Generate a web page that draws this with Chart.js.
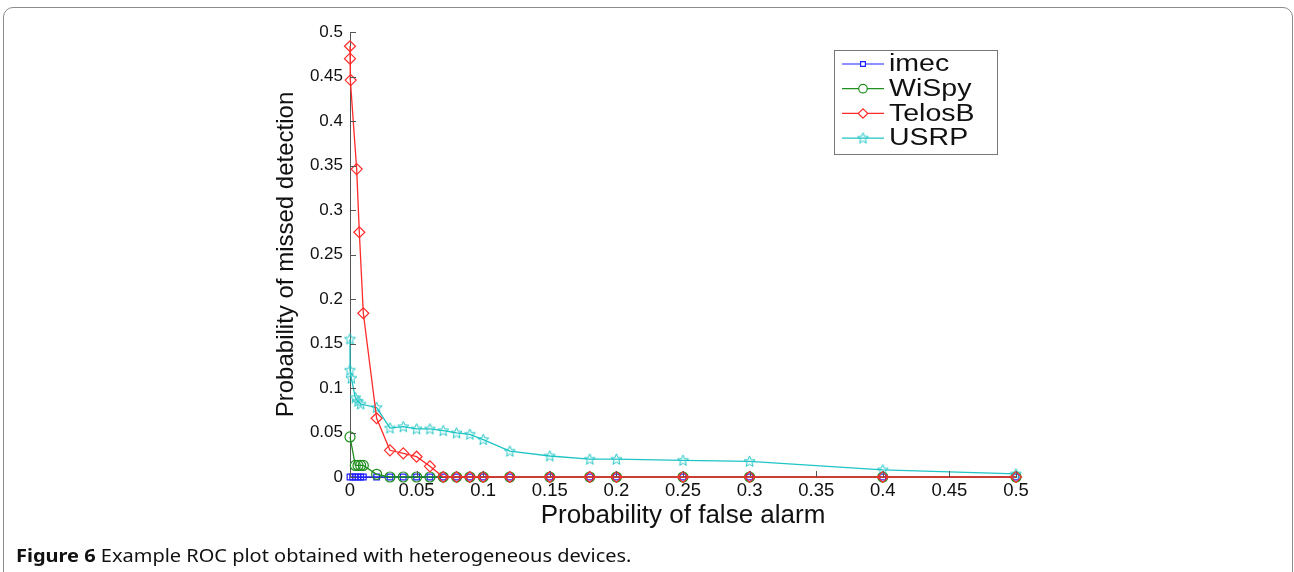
<!DOCTYPE html>
<html>
<head>
<meta charset="utf-8">
<script src="https://cdn.jsdelivr.net/npm/chart.js@4/dist/chart.umd.min.js"></script>
<style>
  body { margin: 0; background: #fff; }
  #wrap { position: relative; width: 1294px; height: 572px; overflow: hidden; }
  #frame { position: absolute; left: 3px; top: 7px; width: 1288px; height: 640px;
           border: 1px solid #8c8c8c; border-radius: 10px; }
  #roc { position: absolute; left: 0; top: 0; }
  #cap { position: absolute; left: 16px; top: 543px; font-family: "Noto Sans", sans-serif;
         font-size: 18px; color: #111; white-space: nowrap;
         transform: scaleX(1.11); transform-origin: 0 0; }
  #cap b { font-weight: 700; }
</style>
</head>
<body>
<div id="wrap">
  <div id="frame"></div>
  <canvas id="roc" width="1294" height="572"></canvas>
  <div id="cap"><b>Figure 6</b> Example ROC plot obtained with heterogeneous devices.</div>
</div>
<script>
// ROC data
const seriesNames = ['imec', 'WiSpy', 'TelosB', 'USRP'];

const imecX = [0, 0.002, 0.004, 0.006, 0.008, 0.01, 0.02, 0.03, 0.04, 0.05, 0.06, 0.07, 0.08, 0.09, 0.1, 0.12, 0.15, 0.18, 0.2, 0.25, 0.3, 0.4, 0.5];
const imecY = [0, 0, 0, 0, 0, 0, 0, 0, 0, 0, 0, 0, 0, 0, 0, 0, 0, 0, 0, 0, 0, 0, 0];

const wispyX = [0, 0.004, 0.006, 0.008, 0.01, 0.02, 0.03, 0.04, 0.05, 0.06, 0.07, 0.08, 0.09, 0.1, 0.12, 0.15, 0.18, 0.2, 0.25, 0.3, 0.4, 0.5];
const wispyY = [0.045, 0.013, 0.013, 0.013, 0.013, 0.003, 0, 0, 0, 0, 0, 0, 0, 0, 0, 0, 0, 0, 0, 0, 0, 0];

const telosX = [0, 0, 0.0005, 0.005, 0.007, 0.01, 0.02, 0.03, 0.04, 0.05, 0.06, 0.07, 0.08, 0.09, 0.1, 0.12, 0.15, 0.18, 0.2, 0.25, 0.3, 0.4, 0.5];
const telosY = [0.484, 0.47, 0.446, 0.346, 0.275, 0.184, 0.066, 0.030, 0.0265, 0.0228, 0.012, 0, 0, 0, 0, 0, 0, 0, 0, 0, 0, 0, 0];

const usrpX = [0, 0, 0.001, 0.004, 0.006, 0.008, 0.02, 0.03, 0.04, 0.05, 0.06, 0.07, 0.08, 0.09, 0.1, 0.12, 0.15, 0.18, 0.2, 0.25, 0.3, 0.4, 0.5];
const usrpY = [0.155, 0.12, 0.111, 0.089, 0.085, 0.082, 0.078, 0.055, 0.0565, 0.054, 0.054, 0.052, 0.0495, 0.048, 0.042, 0.029, 0.0236, 0.020, 0.020, 0.0187, 0.0176, 0.008, 0.0034];

const xTicks = [0, 0.05, 0.1, 0.15, 0.2, 0.25, 0.3, 0.35, 0.4, 0.45, 0.5];
const yTicks = [0, 0.05, 0.1, 0.15, 0.2, 0.25, 0.3, 0.35, 0.4, 0.45, 0.5];

const colors = ['#2020ff', '#1f8f1f', '#ff2a2a', '#1fc4c4'];

function toPoints(xs, ys) {
  return xs.map((x, i) => ({ x: x, y: ys[i] }));
}

// hollow five-pointed star marker (matlab 'p')
function starMarker(color) {
  const c = document.createElement('canvas');
  c.width = 13; c.height = 13;
  const g = c.getContext('2d');
  g.strokeStyle = color;
  g.lineWidth = 1;
  g.beginPath();
  for (let i = 0; i < 10; i++) {
    const r = i % 2 === 0 ? 5.8 : 2.5;
    const a = -Math.PI / 2 + i * Math.PI / 5;
    const px = 6.5 + r * Math.cos(a), py = 6.8 + r * Math.sin(a);
    if (i === 0) g.moveTo(px, py); else g.lineTo(px, py);
  }
  g.closePath();
  g.stroke();
  return c;
}

const pointStyles = ['rect', 'circle', 'rectRot', starMarker(colors[3])];
const pointSizes = [4, 5, 5.5, 6];

function makeSet(i, xs, ys, order) {
  return {
    label: seriesNames[i],
    data: toPoints(xs, ys),
    borderColor: colors[i],
    backgroundColor: 'rgba(0,0,0,0)',
    borderWidth: 1.3,
    pointStyle: pointStyles[i],
    pointRadius: pointSizes[i],
    pointBorderWidth: 1.2,
    pointBorderColor: colors[i],
    pointBackgroundColor: 'rgba(0,0,0,0)',
    tension: 0,
    clip: false,
    order: order
  };
}

const axisColor = '#555';

// inward tick marks like the matlab axes
const innerTicks = {
  id: 'innerTicks',
  afterDraw(chart) {
    const ctx = chart.ctx;
    const xs = chart.scales.x, ys = chart.scales.y;
    ctx.save();
    ctx.strokeStyle = axisColor;
    ctx.lineWidth = 1;
    ctx.beginPath();
    xTicks.forEach(v => {
      const px = Math.round(xs.getPixelForValue(v)) + 0.5;
      ctx.moveTo(px, ys.bottom);
      ctx.lineTo(px, ys.bottom - 6);
    });
    yTicks.forEach(v => {
      const py = Math.round(ys.getPixelForValue(v)) + 0.5;
      ctx.moveTo(xs.left, py);
      ctx.lineTo(xs.left + 6, py);
    });
    ctx.stroke();
    ctx.restore();
  }
};

// boxed legend in the upper right of the plot
const boxLegend = {
  id: 'boxLegend',
  afterDraw(chart) {
    const ctx = chart.ctx;
    const x0 = 834, y0 = 50, w = 163, h = 104;
    ctx.save();
    ctx.fillStyle = '#fff';
    ctx.fillRect(x0, y0, w, h);
    ctx.strokeStyle = '#777';
    ctx.lineWidth = 1;
    ctx.strokeRect(x0 + 0.5, y0 + 0.5, w, h);
    ctx.font = '23px "Liberation Sans", Arial, sans-serif';
    ctx.textBaseline = 'middle';
    chart.data.datasets.forEach((ds, i) => {
      const cy = y0 + 14 + i * 24.7;
      ctx.strokeStyle = ds.borderColor;
      ctx.lineWidth = 1.2;
      ctx.beginPath();
      ctx.moveTo(x0 + 8, cy);
      ctx.lineTo(x0 + 50, cy);
      ctx.stroke();
      const st = ds.pointStyle;
      if (st instanceof HTMLCanvasElement) {
        ctx.drawImage(st, x0 + 29 - 6.5, cy - 6.5);
      } else {
        ctx.fillStyle = '#fff';
        Chart.helpers.drawPoint(ctx, {
          pointStyle: st, radius: ds.pointRadius * 0.85, borderWidth: 1.2, rotation: 0
        }, x0 + 29, cy);
      }
      ctx.fillStyle = '#111';
      ctx.save();
      ctx.translate(x0 + 55, cy + 1);
      ctx.scale(1.24, 1);
      ctx.fillText(ds.label, 0, 0);
      ctx.restore();
    });
    ctx.restore();
  }
};

const tickFmt = v => String(Number(v.toFixed(2)));

const ctx = document.getElementById('roc').getContext('2d');
new Chart(ctx, {
  type: 'line',
  data: {
    datasets: [
      makeSet(0, imecX, imecY, 3),
      makeSet(1, wispyX, wispyY, 2),
      makeSet(2, telosX, telosY, 0),
      makeSet(3, usrpX, usrpY, 1)
    ]
  },
  options: {
    responsive: false,
    animation: false,
    devicePixelRatio: 1,
    layout: { padding: { left: 272, right: 278, top: 32, bottom: 41 } },
    plugins: { legend: { display: false }, tooltip: { enabled: false } },
    scales: {
      x: {
        type: 'linear',
        min: 0, max: 0.5,
        afterFit: s => { s.height = 54; },
        afterBuildTicks: s => { s.ticks = xTicks.map(v => ({ value: v })); },
        grid: { display: false, drawTicks: false },
        border: { display: true, color: axisColor, width: 1 },
        ticks: { padding: 3, color: '#111', callback: tickFmt, maxRotation: 0, autoSkip: false,
                 font: { family: '"Liberation Sans", Arial, sans-serif', size: 18.5 } },
        title: { display: true, text: 'Probability of false alarm', color: '#111', padding: 0,
                 font: { family: '"Liberation Sans", Arial, sans-serif', size: 26 } }
      },
      y: {
        type: 'linear',
        min: 0, max: 0.5,
        afterFit: s => { s.width = 78; },
        afterBuildTicks: s => { s.ticks = yTicks.map(v => ({ value: v })); },
        grid: { display: false, drawTicks: false },
        border: { display: true, color: axisColor, width: 1 },
        ticks: { padding: 7, color: '#111', callback: tickFmt, autoSkip: false,
                 font: { family: '"Liberation Sans", Arial, sans-serif', size: 17 } },
        title: { display: true, text: 'Probability of missed detection', color: '#111', padding: 0,
                 font: { family: '"Liberation Sans", Arial, sans-serif', size: 24 } }
      }
    }
  },
  plugins: [innerTicks, boxLegend]
});
</script>
</body>
</html>
